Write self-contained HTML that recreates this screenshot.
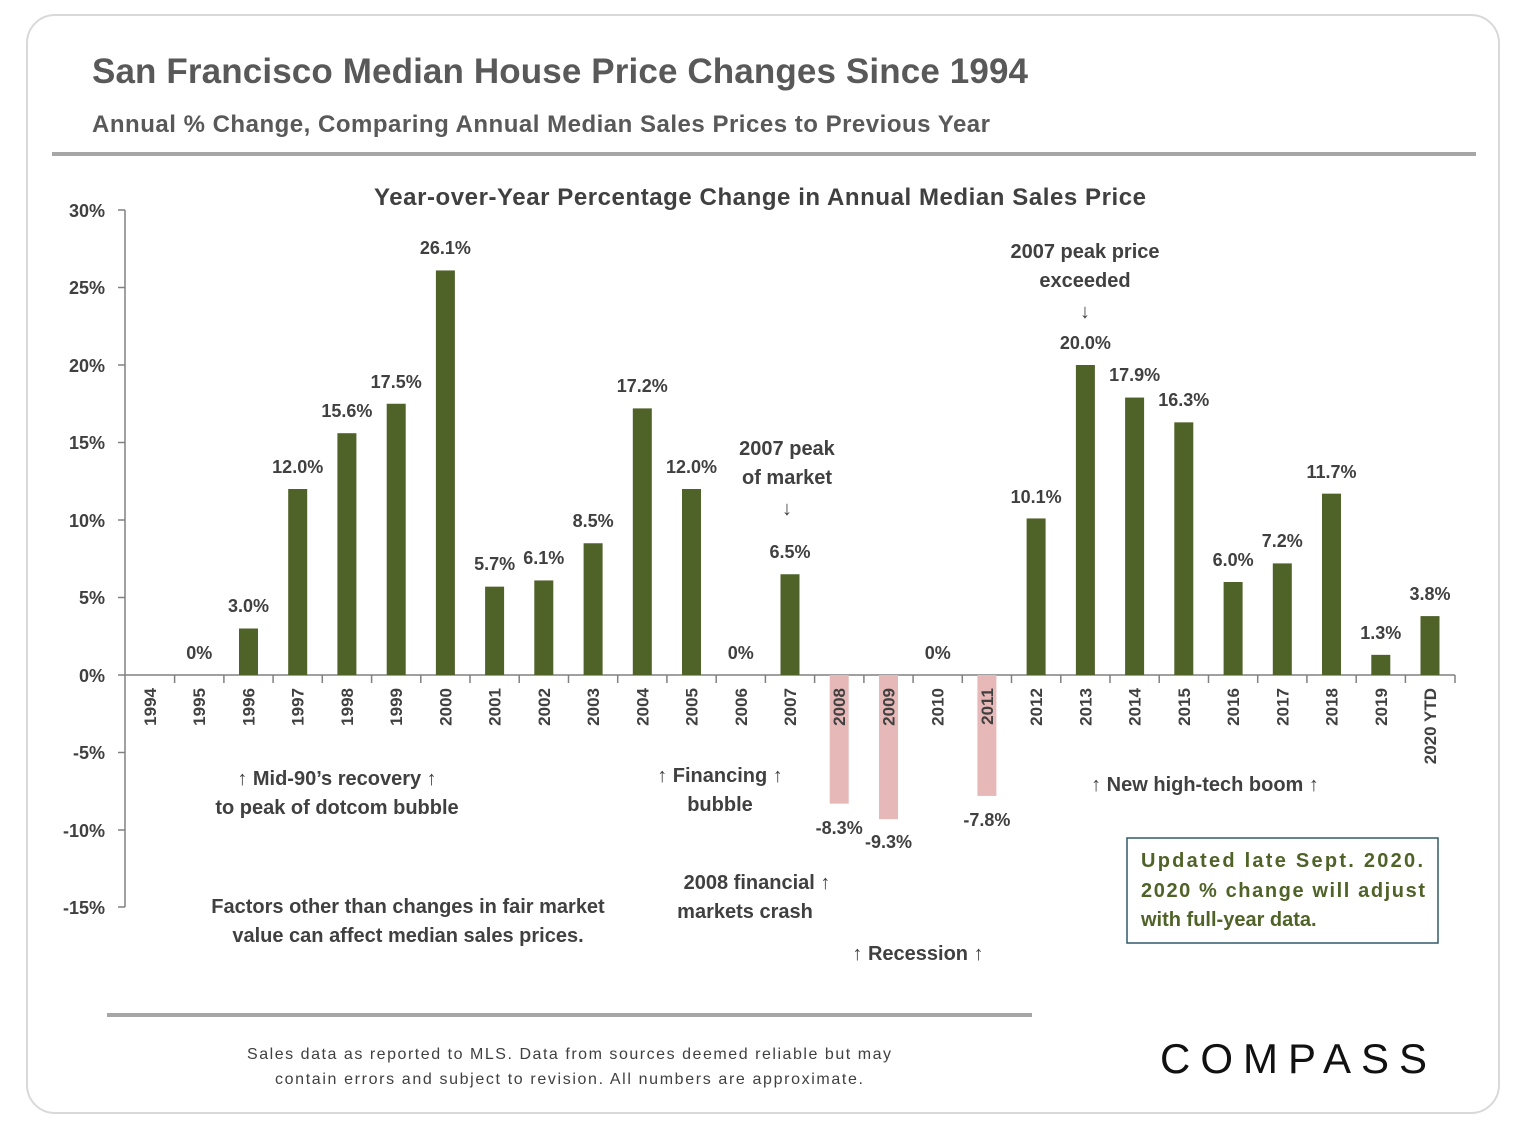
<!DOCTYPE html>
<html><head><meta charset="utf-8"><style>
body{margin:0;background:#fff;}
svg{display:block;font-family:"Liberation Sans",sans-serif;}
</style></head><body>
<svg width="1523" height="1123" viewBox="0 0 1523 1123" xmlns="http://www.w3.org/2000/svg">
<rect x="27" y="15" width="1472" height="1098" rx="28" fill="#fff" stroke="#d9d9d9" stroke-width="2"/>
<text x="92" y="83" font-size="35" font-weight="bold" fill="#595959" textLength="936">San Francisco Median House Price Changes Since 1994</text>
<text x="92" y="132" font-size="24" font-weight="bold" fill="#595959" textLength="898">Annual % Change, Comparing Annual Median Sales Prices to Previous Year</text>
<rect x="52" y="152" width="1424" height="4" fill="#a6a6a6"/>
<text x="760" y="205" font-size="24" font-weight="bold" fill="#404040" text-anchor="middle" textLength="772">Year-over-Year Percentage Change in Annual Median Sales Price</text>
<g stroke="#808080" stroke-width="1.5">
<line x1="125" y1="210" x2="125" y2="907"/>
<line x1="125" y1="675" x2="1455" y2="675"/>
<line x1="118" y1="210" x2="125" y2="210"/><line x1="118" y1="287.5" x2="125" y2="287.5"/>
<line x1="118" y1="365" x2="125" y2="365"/><line x1="118" y1="442.5" x2="125" y2="442.5"/>
<line x1="118" y1="520" x2="125" y2="520"/><line x1="118" y1="597.5" x2="125" y2="597.5"/>
<line x1="118" y1="675" x2="125" y2="675"/><line x1="118" y1="752.5" x2="125" y2="752.5"/>
<line x1="118" y1="830" x2="125" y2="830"/><line x1="118" y1="907" x2="125" y2="907"/>
<line x1="174.6" y1="675" x2="174.6" y2="683"/><line x1="223.9" y1="675" x2="223.9" y2="683"/>
<line x1="273.1" y1="675" x2="273.1" y2="683"/><line x1="322.3" y1="675" x2="322.3" y2="683"/>
<line x1="371.6" y1="675" x2="371.6" y2="683"/><line x1="420.8" y1="675" x2="420.8" y2="683"/>
<line x1="470" y1="675" x2="470" y2="683"/><line x1="519.2" y1="675" x2="519.2" y2="683"/>
<line x1="568.5" y1="675" x2="568.5" y2="683"/><line x1="617.7" y1="675" x2="617.7" y2="683"/>
<line x1="666.9" y1="675" x2="666.9" y2="683"/><line x1="716.2" y1="675" x2="716.2" y2="683"/>
<line x1="765.4" y1="675" x2="765.4" y2="683"/><line x1="814.6" y1="675" x2="814.6" y2="683"/>
<line x1="863.9" y1="675" x2="863.9" y2="683"/><line x1="913.1" y1="675" x2="913.1" y2="683"/>
<line x1="962.3" y1="675" x2="962.3" y2="683"/><line x1="1011.5" y1="675" x2="1011.5" y2="683"/>
<line x1="1060.8" y1="675" x2="1060.8" y2="683"/><line x1="1110" y1="675" x2="1110" y2="683"/>
<line x1="1159.2" y1="675" x2="1159.2" y2="683"/><line x1="1208.5" y1="675" x2="1208.5" y2="683"/>
<line x1="1257.7" y1="675" x2="1257.7" y2="683"/><line x1="1306.9" y1="675" x2="1306.9" y2="683"/>
<line x1="1356.2" y1="675" x2="1356.2" y2="683"/><line x1="1405.4" y1="675" x2="1405.4" y2="683"/>
<line x1="1455" y1="675" x2="1455" y2="683"/>
</g>
<g font-size="18" font-weight="bold" fill="#404040" text-anchor="end">
<text x="105" y="217">30%</text><text x="105" y="294">25%</text><text x="105" y="372">20%</text>
<text x="105" y="449">15%</text><text x="105" y="527">10%</text><text x="105" y="604">5%</text>
<text x="105" y="682">0%</text><text x="105" y="759">-5%</text><text x="105" y="837">-10%</text><text x="105" y="914">-15%</text>
</g>
<g fill="#4f6228">
<rect x="239" y="628.5" width="19" height="46.5"/>
<rect x="288.2" y="489" width="19" height="186"/>
<rect x="337.4" y="433.2" width="19" height="241.8"/>
<rect x="386.7" y="403.75" width="19" height="271.25"/>
<rect x="435.9" y="270.45" width="19" height="404.55"/>
<rect x="485.1" y="586.65" width="19" height="88.35"/>
<rect x="534.3" y="580.45" width="19" height="94.55"/>
<rect x="583.6" y="543.25" width="19" height="131.75"/>
<rect x="632.8" y="408.4" width="19" height="266.6"/>
<rect x="682" y="489" width="19" height="186"/>
<rect x="780.5" y="574.25" width="19" height="100.75"/>
<rect x="1026.6" y="518.45" width="19" height="156.55"/>
<rect x="1075.9" y="365" width="19" height="310"/>
<rect x="1125.1" y="397.55" width="19" height="277.45"/>
<rect x="1174.3" y="422.35" width="19" height="252.65"/>
<rect x="1223.6" y="582" width="19" height="93"/>
<rect x="1272.8" y="563.4" width="19" height="111.6"/>
<rect x="1322" y="493.65" width="19" height="181.35"/>
<rect x="1371.3" y="654.85" width="19" height="20.15"/>
<rect x="1420.5" y="616.1" width="19" height="58.9"/>
</g>
<g fill="#e6b8b7">
<rect x="829.7" y="675" width="19" height="128.65"/>
<rect x="879" y="675" width="19" height="144.15"/>
<rect x="977.4" y="675" width="19" height="120.9"/>
</g>
<g font-size="18" font-weight="bold" fill="#404040" text-anchor="middle">
<text x="199.2" y="659">0%</text>
<text x="248.5" y="612">3.0%</text>
<text x="297.7" y="473">12.0%</text>
<text x="346.9" y="417">15.6%</text>
<text x="396.2" y="388">17.5%</text>
<text x="445.4" y="254">26.1%</text>
<text x="494.6" y="570">5.7%</text>
<text x="543.8" y="564">6.1%</text>
<text x="593.1" y="527">8.5%</text>
<text x="642.3" y="392">17.2%</text>
<text x="691.5" y="473">12.0%</text>
<text x="740.8" y="659">0%</text>
<text x="790" y="558">6.5%</text>
<text x="839.2" y="834">-8.3%</text>
<text x="888.5" y="848">-9.3%</text>
<text x="937.7" y="659">0%</text>
<text x="986.9" y="826">-7.8%</text>
<text x="1036.1" y="503">10.1%</text>
<text x="1085.4" y="349">20.0%</text>
<text x="1134.6" y="381">17.9%</text>
<text x="1183.8" y="406">16.3%</text>
<text x="1233.1" y="566">6.0%</text>
<text x="1282.3" y="547">7.2%</text>
<text x="1331.5" y="478">11.7%</text>
<text x="1380.8" y="639">1.3%</text>
<text x="1430" y="600">3.8%</text>
</g>
<g font-size="17" font-weight="bold" fill="#404040" text-anchor="end">
<text transform="translate(156,688) rotate(-90)">1994</text>
<text transform="translate(205.2,688) rotate(-90)">1995</text>
<text transform="translate(254.5,688) rotate(-90)">1996</text>
<text transform="translate(303.7,688) rotate(-90)">1997</text>
<text transform="translate(352.9,688) rotate(-90)">1998</text>
<text transform="translate(402.2,688) rotate(-90)">1999</text>
<text transform="translate(451.4,688) rotate(-90)">2000</text>
<text transform="translate(500.6,688) rotate(-90)">2001</text>
<text transform="translate(549.8,688) rotate(-90)">2002</text>
<text transform="translate(599.1,688) rotate(-90)">2003</text>
<text transform="translate(648.3,688) rotate(-90)">2004</text>
<text transform="translate(697.5,688) rotate(-90)">2005</text>
<text transform="translate(746.8,688) rotate(-90)">2006</text>
<text transform="translate(796,688) rotate(-90)">2007</text>
<text transform="translate(845.2,688) rotate(-90)">2008</text>
<text transform="translate(894.5,688) rotate(-90)">2009</text>
<text transform="translate(943.7,688) rotate(-90)">2010</text>
<text transform="translate(992.9,688) rotate(-90)">2011</text>
<text transform="translate(1042.1,688) rotate(-90)">2012</text>
<text transform="translate(1091.4,688) rotate(-90)">2013</text>
<text transform="translate(1140.6,688) rotate(-90)">2014</text>
<text transform="translate(1189.8,688) rotate(-90)">2015</text>
<text transform="translate(1239.1,688) rotate(-90)">2016</text>
<text transform="translate(1288.3,688) rotate(-90)">2017</text>
<text transform="translate(1337.5,688) rotate(-90)">2018</text>
<text transform="translate(1386.8,688) rotate(-90)">2019</text>
<text transform="translate(1436,688) rotate(-90)">2020 YTD</text>
</g>
<g font-size="20" font-weight="bold" fill="#404040" text-anchor="middle">
<text x="337" y="785">↑ Mid-90’s recovery ↑</text>
<text x="337" y="814">to peak of dotcom bubble</text>
<text x="720" y="782">↑ Financing ↑</text>
<text x="720" y="811">bubble</text>
<text x="787" y="455">2007 peak</text><text x="787" y="484">of market</text><text x="787" y="515">↓</text>
<text x="1085" y="258">2007 peak price</text><text x="1085" y="287">exceeded</text><text x="1085" y="318">↓</text>
<text x="1205" y="791">↑ New high-tech boom ↑</text>
<text x="757" y="889">2008 financial ↑</text>
<text x="745" y="918">markets crash</text>
<text x="918" y="960">↑ Recession ↑</text>
<text x="408" y="913">Factors other than changes in fair market</text>
<text x="408" y="942">value can affect median sales prices.</text>
</g>
<rect x="1127" y="838" width="311" height="105" fill="#fff" stroke="#31596b" stroke-width="1.5"/>
<g font-size="20" font-weight="bold" fill="#4f6228">
<text x="1141" y="867" textLength="282">Updated late Sept. 2020.</text>
<text x="1141" y="897" textLength="284">2020 % change will adjust</text>
<text x="1141" y="926">with full-year data.</text>
</g>
<rect x="107" y="1013" width="925" height="4" fill="#a6a6a6"/>
<g font-size="16" fill="#404040" text-anchor="middle">
<text x="569" y="1059" textLength="644">Sales data as reported to MLS. Data from sources deemed reliable but may</text>
<text x="569" y="1084" textLength="588">contain errors and subject to revision. All numbers are approximate.</text>
</g>
<text x="1296" y="1073" font-size="42" fill="#111" text-anchor="middle" letter-spacing="5" textLength="272">COMPASS</text>
</svg>
</body></html>
